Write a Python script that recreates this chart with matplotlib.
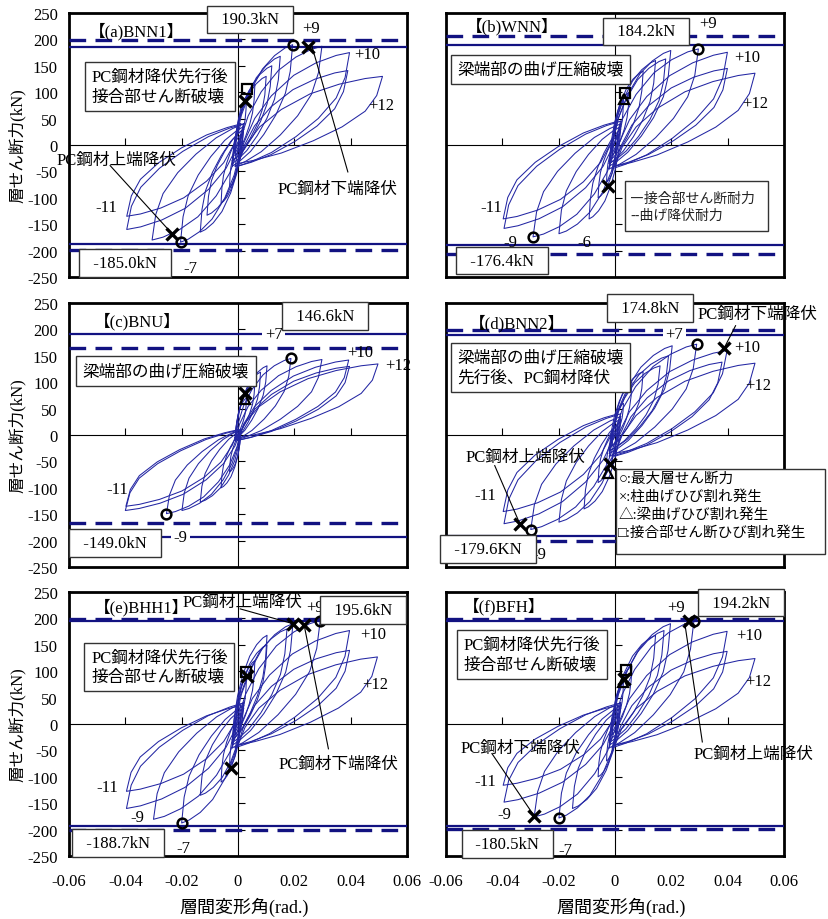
import matplotlib
matplotlib.use("Agg")
import matplotlib.pyplot as plt
from matplotlib.patches import Rectangle

plt.rcParams['font.family'] = ['Liberation Serif', 'Noto Sans CJK JP']

# ---- data ----
XTICKS = [-0.06, -0.04, -0.02, 0, 0.02, 0.04, 0.06]
XTICK_LABELS = ['-0.06', '-0.04', '-0.02', '0', '0.02', '0.04', '0.06']
YTICKS = [-250, -200, -150, -100, -50, 0, 50, 100, 150, 200, 250]
YTICK_LABELS = [str(v) for v in YTICKS]

# loop peaks: (peak drift, peak shear, start drift, start shear)
A_POS = [(0.003, 90, -0.001, -15), (0.006, 115, -0.001, -20), (0.010, 130, -0.002, -30),
         (0.012, 150, -0.002, -30), (0.015, 168, -0.002, -35), (0.0194, 190, -0.002, -40),
         (0.0298, 187, -0.001, -40), (0.0396, 175, 0.0, -40), (0.039, 141, 0.0, -40),
         (0.0513, 130, 0.0, -35)]
A_NEG = [(-0.003, -80, 0.001, 15), (-0.006, -110, 0.001, 20), (-0.011, -133, 0.002, 30),
         (-0.0134, -165, 0.002, 30), (-0.0204, -184, 0.002, 35), (-0.0305, -180, 0.002, 40),
         (-0.0395, -160, 0.002, 40), (-0.0395, -135, 0.001, 40)]
B_POS = [(0.003, 85, -0.001, -15), (0.005, 100, -0.001, -20), (0.010, 140, -0.002, -30),
         (0.0144, 160, -0.002, -35), (0.018, 163, -0.002, -35), (0.0198, 179, -0.002, -40),
         (0.0296, 182, -0.002, -45), (0.0399, 175.6, -0.001, -45), (0.0399, 145, 0.0, -40),
         (0.0497, 136, 0.0, -40)]
B_NEG = [(-0.003, -70, 0.001, 15), (-0.006, -100, 0.001, 20), (-0.0092, -140, 0.002, 30),
         (-0.0199, -168, 0.002, 35), (-0.0291, -174, 0.002, 40), (-0.0394, -158, 0.002, 45),
         (-0.0397, -140, 0.001, 45)]
C_POS = [(0.003, 70, -0.001, -5), (0.006, 100, -0.001, -5), (0.008, 119, -0.001, -8),
         (0.0103, 131, -0.001, -8), (0.0188, 145, -0.001, -10), (0.0298, 143, -0.001, -10),
         (0.0393, 142, 0.0, -10), (0.0396, 130, 0.0, -10), (0.0497, 134.6, 0.0, -5)]
C_NEG = [(-0.003, -70, 0.001, 5), (-0.006, -100, 0.001, 5), (-0.0134, -127, 0.001, 8),
         (-0.0199, -143, 0.001, 10), (-0.0254, -149, 0.001, 10), (-0.040, -143, 0.001, 10),
         (-0.0398, -135, 0.0, 10)]
D_POS = [(0.003, 60, -0.001, -10), (0.006, 100, -0.001, -20), (0.010, 120, -0.002, -25),
         (0.016, 131, -0.002, -30), (0.019, 150, -0.002, -30), (0.0203, 169, -0.002, -35),
         (0.029, 172, -0.002, -40), (0.0398, 160, -0.001, -40), (0.038, 138, 0.0, -40),
         (0.0497, 136, 0.0, -35)]
D_NEG = [(-0.003, -55, 0.001, 10), (-0.006, -90, 0.001, 20), (-0.011, -140, 0.002, 25),
         (-0.0199, -165, 0.002, 30), (-0.0299, -179, 0.002, 35), (-0.0394, -168, 0.002, 40),
         (-0.0397, -145, 0.001, 40)]
E_POS = [(0.003, 90, -0.001, -15), (0.006, 120, -0.001, -20), (0.0103, 150, -0.002, -30),
         (0.0103, 168, -0.002, -30), (0.0174, 180, -0.002, -35), (0.0195, 190, -0.002, -40),
         (0.0292, 196, -0.002, -45), (0.0396, 177, -0.001, -45), (0.0396, 139.5, 0.0, -40),
         (0.0495, 127, 0.0, -40)]
E_NEG = [(-0.003, -80, 0.001, 15), (-0.006, -110, 0.001, 20), (-0.0134, -135, 0.002, 30),
         (-0.020, -187.5, 0.002, 35), (-0.030, -180.5, 0.002, 40), (-0.0396, -160, 0.002, 40),
         (-0.0396, -127.5, 0.001, 35)]
F_POS = [(0.003, 80, -0.001, -15), (0.006, 110, -0.001, -20), (0.0144, 168, -0.002, -30),
         (0.0174, 177, -0.002, -35), (0.0197, 190, -0.002, -40), (0.028, 194.4, -0.002, -45),
         (0.0398, 175.5, -0.001, -45), (0.0398, 137.6, 0.0, -40), (0.0497, 124, 0.0, -40)]
F_NEG = [(-0.003, -70, 0.001, 15), (-0.006, -100, 0.001, 20), (-0.0151, -160, 0.002, 30),
         (-0.0199, -178, 0.002, 35), (-0.0287, -176, 0.002, 40), (-0.0394, -148, 0.002, 40),
         (-0.0397, -116, 0.001, 35)]

# strength lines (kN): joint shear strength (solid), flexural yield strength (dashed)
JOINT = {'a': (186, -187), 'b': (189.5, -190), 'c': (191, -193),
         'd': (190, -192), 'e': (196, -194), 'f': (195, -194)}
FLEX = {'a': (198, -198), 'b': (206, -206), 'c': (164, -167),
        'd': (198, -201), 'e': (198, -200), 'f': (198, -199)}
MAX_LABELS = {'a': ('190.3kN', '-185.0kN'), 'b': ('184.2kN', '-176.4kN'),
              'c': ('146.6kN', '-149.0kN'), 'd': ('174.8kN', '-179.6KN'),
              'e': ('195.6kN', '-188.7kN'), 'f': ('194.2kN', '-180.5kN')}

# events: circle = max shear, cross = column crack / PC yield, tri = beam crack, square = joint crack
CIRC = {'a': [(0.0194, 189.5), (-0.0204, -184)], 'b': [(0.0296, 182), (-0.0291, -174)],
        'c': [(0.0188, 145), (-0.0254, -149)], 'd': [(0.029, 172), (-0.0299, -179)],
        'e': [(0.0292, 196), (-0.0199, -187.5)], 'f': [(0.028, 194.4), (-0.0199, -178)]}
CROSS = {'a': [(0.0247, 186), (0.0024, 84), (-0.0234, -168)], 'b': [(-0.0024, -77)],
         'c': [(0.0026, 80)], 'd': [(0.0387, 164), (-0.0338, -168), (-0.0018, -55)],
         'e': [(0.0195, 190), (0.0235, 187), (0.0032, 91), (-0.0025, -83)],
         'f': [(0.0262, 194.4), (0.0032, 86), (-0.0287, -174)]}
TRI = {'a': [], 'b': [(0.0032, 87)], 'c': [(0.0024, 68)], 'd': [(-0.0024, -72)],
       'e': [], 'f': [(0.003, 80)]}
SQUARE = {'a': [(0.0031, 107)], 'b': [(0.0034, 99)], 'c': [], 'd': [],
          'e': [(0.003, 98.5)], 'f': [(0.004, 103)]}

TITLES = {'a': '【(a)BNN1】', 'b': '【(b)WNN】', 'c': '【(c)BNU】',
          'd': '【(d)BNN2】', 'e': '【(e)BHH1】', 'f': '【(f)BFH】'}
DESC = {'a': 'PC鋼材降伏先行後\n接合部せん断破壊', 'b': '梁端部の曲げ圧縮破壊',
        'c': '梁端部の曲げ圧縮破壊', 'd': '梁端部の曲げ圧縮破壊\n先行後、PC鋼材降伏',
        'e': 'PC鋼材降伏先行後\n接合部せん断破壊', 'f': 'PC鋼材降伏先行後\n接合部せん断破壊'}
LOOPS = {'a': (A_POS, A_NEG), 'b': (B_POS, B_NEG), 'c': (C_POS, C_NEG),
         'd': (D_POS, D_NEG), 'e': (E_POS, E_NEG), 'f': (F_POS, F_NEG)}

# ---- layout ----
# leaf outline of one half cycle, in fractions from start point to peak
UP_U = [0, 0.05, 0.15, 0.3, 0.5, 0.7, 0.88, 1.0]
UP_V = [0, 0.2, 0.42, 0.62, 0.8, 0.91, 0.975, 1.0]
DN_U = [1.0, 0.96, 0.88, 0.72, 0.52, 0.3, 0.12, 0]
DN_V = [1.0, 0.78, 0.6, 0.42, 0.26, 0.12, 0.04, 0]

LAY = {
    'a': dict(pos=(69, 14), title=(-0.053, 217), top=(0.0044, 238), bot=(-0.040, -224),
              desc=(-0.0277, 111),
              cyc=[('+9', 0.026, 221, 0), ('+10', 0.046, 172, 0), ('+12', 0.051, 76, 0),
                   ('-11', -0.0466, -117, 0), ('-7', -0.017, -233, 0)],
              notes=[('PC鋼材上端降伏', -0.043, -29, (-0.0454, -39), (-0.0234, -168)),
                     ('PC鋼材下端降伏', 0.0355, -83, (0.039, -51), (0.0262, 188))]),
    'b': dict(pos=(446, 14), title=(-0.053, 226), top=(0.011, 215), bot=(-0.040, -219),
              desc=(-0.0264, 143),
              cyc=[('+9', 0.0331, 231, 0), ('+10', 0.047, 166, 0), ('+12', 0.0497, 80, 0),
                   ('-11', -0.0441, -118, 0), ('-9', -0.037, -184, 0), ('-6', -0.011, -184, 0)],
              notes=[]),
    'c': dict(pos=(69, 304), title=(-0.051, 216), top=(0.031, 226), bot=(-0.0436, -204),
              desc=(-0.0256, 121),
              cyc=[('+7', 0.0127, 191, 1), ('+10', 0.0434, 157, 0), ('+12', 0.057, 133, 0),
                   ('-11', -0.0429, -102, 0), ('-9', -0.0205, -193, 1)],
              notes=[]),
    'd': dict(pos=(446, 304), title=(-0.052, 213), top=(0.0124, 240), bot=(-0.045, -216),
              desc=(-0.0265, 128),
              cyc=[('+7', 0.021, 191, 1), ('+10', 0.047, 166, 0), ('+12', 0.051, 95, 0),
                   ('-11', -0.046, -114, 0), ('-9', -0.027, -225, 0)],
              notes=[('PC鋼材下端降伏', 0.0505, 229, (0.0428, 207), (0.0387, 164)),
                     ('PC鋼材上端降伏', -0.0317, -42, (-0.0427, -58), (-0.0338, -168))]),
    'e': dict(pos=(69, 593), title=(-0.051, 221.5), top=(0.0443, 216), bot=(-0.0425, -225),
              desc=(-0.0279, 108),
              cyc=[('+9', 0.0272, 221, 0), ('+10', 0.048, 171, 0), ('+12', 0.0487, 76, 0),
                   ('-11', -0.0465, -119, 0), ('-9', -0.0358, -176, 0), ('-7', -0.0193, -235, 0)],
              notes=[('PC鋼材上端降伏', 0.0015, 231, (0.0008, 218), (0.0195, 190)),
                     ('PC鋼材下端降伏', 0.0357, -75, (0.0321, -47), (0.0235, 187))]),
    'f': dict(pos=(446, 593), title=(-0.054, 224.7), top=(0.0448, 230), bot=(-0.0382, -227),
              desc=(-0.0296, 131),
              cyc=[('+9', 0.0215, 221.6, 0), ('+10', 0.0475, 168, 0), ('+12', 0.051, 81, 0),
                   ('-11', -0.0459, -108.6, 0), ('-9', -0.0394, -170, 0), ('-7', -0.0175, -239, 0)],
              notes=[('PC鋼材下端降伏', -0.0335, -45.5, (-0.0437, -56), (-0.0287, -174)),
                     ('PC鋼材上端降伏', 0.049, -56, (0.031, -34), (0.0248, 190))]),
}

CURVE = '#2326a3'
LINE = '#121281'
W_PX, H_PX = 829, 920
AX_W, AX_H = 338, 264
JP = ['Noto Sans CJK JP', 'DejaVu Sans']


def leaf(xp, yp, xb, yb):
    us = UP_U + DN_U
    vs = UP_V + DN_V
    xs = [xb + u * (xp - xb) for u in us]
    ys = [yb + v * (yp - yb) for v in vs]
    return xs, ys


def draw_panel(fig, key):
    lay = LAY[key]
    left, top = lay['pos']
    ax = fig.add_axes([left / W_PX, 1 - (top + AX_H) / H_PX, AX_W / W_PX, AX_H / H_PX])
    ax.set_xlim(-0.06, 0.06)
    ax.set_ylim(-250, 250)
    for s in ax.spines.values():
        s.set_linewidth(2)
    ax.set_xticks(XTICKS)
    ax.set_yticks(YTICKS)
    is_left = key in ('a', 'c', 'e')
    is_bottom = key in ('e', 'f')
    ax.set_yticklabels(YTICK_LABELS if is_left else [''] * len(YTICKS), fontsize=12)
    ax.set_xticklabels(XTICK_LABELS if is_bottom else [''] * len(XTICKS), fontsize=12)
    ax.tick_params(axis='y', length=0, pad=8)
    ax.tick_params(axis='x', length=0, pad=12)

    # zero axes with small tick marks
    ax.axhline(0, color='k', lw=0.8, zorder=1)
    ax.axvline(0, color='k', lw=0.8, zorder=1)
    xt = [x for x in XTICKS if x not in (0, -0.06, 0.06)]
    yt = [y for y in YTICKS if y not in (0, -250, 250)]
    ax.plot(xt, [0] * len(xt), ls='none', marker=2, ms=5, mew=0.8, color='k')
    ax.plot([0] * len(yt), yt, ls='none', marker=1, ms=5, mew=0.8, color='k')

    # hysteresis loops
    pos, neg = LOOPS[key]
    for xp, yp, xb, yb in pos + neg:
        xs, ys = leaf(xp, yp, xb, yb)
        ax.plot(xs, ys, color=CURVE, lw=0.75, zorder=2)

    # strength lines
    for y in JOINT[key]:
        ax.axhline(y, color=LINE, lw=1.6, zorder=3)
    for y in FLEX[key]:
        ax.axhline(y, color=LINE, lw=2.4, ls=(0, (5, 2.8)), zorder=3)

    # events
    mk = dict(ls='none', color='k', zorder=4, clip_on=False)
    for pts, m, ms, mew in ((CIRC[key], 'o', 7, 1.8), (CROSS[key], 'x', 8, 2.4),
                            (TRI[key], '^', 7, 1.6), (SQUARE[key], 's', 7, 1.6)):
        if pts:
            ax.plot([p[0] for p in pts], [p[1] for p in pts], marker=m, ms=ms, mew=mew,
                    mfc='none', mec='k', **mk)

    box = dict(boxstyle='square,pad=0.35', fc='white', ec='#333333', lw=1)
    ax.text(*lay['title'], TITLES[key], fontsize=12, ha='left', va='center', zorder=6)
    top_lbl, bot_lbl = MAX_LABELS[key]
    ax.text(*lay['top'], '  ' + top_lbl + '  ', fontsize=12, ha='center', va='center',
            bbox=box, zorder=6)
    ax.text(*lay['bot'], '  ' + bot_lbl + '  ', fontsize=12, ha='center', va='center',
            bbox=box, zorder=6)
    ax.text(*lay['desc'], DESC[key], fontsize=12, ha='center', va='center', linespacing=1.3,
            multialignment='left', bbox=dict(boxstyle='square,pad=0.4', fc='white',
                                             ec='#333333', lw=1), zorder=6)
    for txt, x, y, bg in lay['cyc']:
        kw = {}
        if bg:
            kw['bbox'] = dict(boxstyle='square,pad=0.15', fc='white', ec='none')
        ax.text(x, y, txt, fontsize=12, ha='center', va='center', zorder=5, **kw)
    for txt, x, y, p0, p1 in lay['notes']:
        ax.text(x, y, txt, fontsize=12, ha='center', va='center', zorder=6)
        ax.plot([p0[0], p1[0]], [p0[1], p1[1]], color='k', lw=0.8, zorder=5, clip_on=False)

    if key == 'b':
        ax.add_patch(Rectangle((0.0035, -162), 0.0509, 93, fc='white', ec='#333333',
                               lw=1, zorder=6))
        ax.text(0.0055, -100.6, '―接合部せん断耐力', fontsize=10, color='#222222',
                family=JP, ha='left', va='center', zorder=7)
        ax.text(0.0055, -133, '--曲げ降伏耐力', fontsize=10, color='#222222',
                family=JP, ha='left', va='center', zorder=7)
    if key == 'd':
        ax.add_patch(Rectangle((0.0002, -225), 0.0743, 160, fc='white', ec='#333333',
                               lw=1, zorder=6, clip_on=False))
        for txt, y in (('○:最大層せん断力', -82), ('×:柱曲げひび割れ発生', -116),
                       ('△:梁曲げひび割れ発生', -149), ('□:接合部せん断ひび割れ発生', -184)):
            ax.text(0.0012, y, txt, fontsize=10.5, ha='left', va='center', zorder=7)

    if is_left:
        fig.text(17 / W_PX, 1 - (top + AX_H / 2) / H_PX, '層せん断力(kN)', rotation=90,
                 fontsize=12, ha='center', va='center')
    if is_bottom:
        fig.text((left + AX_W / 2 + 6) / W_PX, 1 - 907 / H_PX, '層間変形角(rad.)',
                 fontsize=13, ha='center', va='center')
    return ax


def main():
    fig = plt.figure(figsize=(W_PX / 100, H_PX / 100), dpi=100)
    for key in 'abcdef':
        draw_panel(fig, key)
    fig.savefig('out.png', dpi=100)


if __name__ == "__main__":
    main()
